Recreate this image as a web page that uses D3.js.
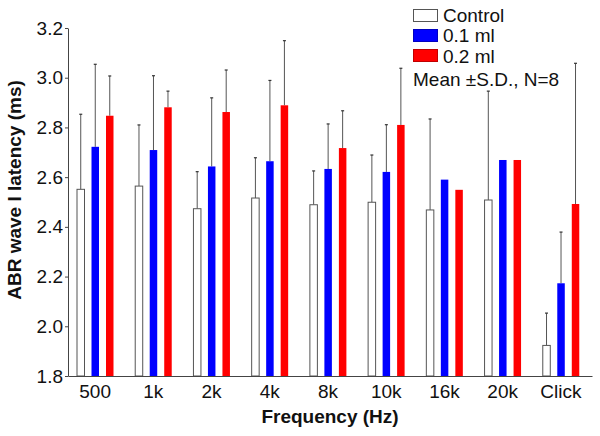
<!DOCTYPE html>
<html><head><meta charset="utf-8">
<script src="https://cdn.jsdelivr.net/npm/d3@7"></script>
<style>body{margin:0;background:#fff}svg{display:block}text{font-family:"Liberation Sans",Arial,sans-serif}</style>
</head><body><svg id="c" width="600" height="436"></svg>
<script>
const categories = ["500","1k","2k","4k","8k","10k","16k","20k","Click"];
const seriesNames = ["Control","0.1 ml","0.2 ml"];
const controlMean = [2.551,2.564,2.473,2.516,2.489,2.499,2.468,2.508,1.923];
const controlSD   = [0.302,0.246,0.149,0.162,0.136,0.190,0.366,0.438,0.130];
const low01Mean   = [2.722,2.709,2.643,2.664,2.633,2.621,2.590,2.669,2.173];
const low01SD     = [0.332,0.299,0.276,0.325,0.181,0.190,0,0,0.206];
const high02Mean  = [2.847,2.881,2.862,2.889,2.717,2.810,2.549,2.669,2.492];
const high02SD    = [0.160,0.065,0.169,0.260,0.150,0.228,0,0,0.566];
const yTicks = [1.8,2.0,2.2,2.4,2.6,2.8,3.0,3.2];
const colors = ["#ffffff","#0000ff","#ff0000"];
const strokes = ["#555555","#0000c0","#c00000"];

const means = [controlMean, low01Mean, high02Mean];
const sds = [controlSD, low01SD, high02SD];

const svg = d3.select("#c");
const mLeft = 68, mRight = 592, mTop = 28, mBottom = 376;
const x0 = d3.scaleBand().domain(categories).range([mLeft, mRight]).padding(0);
const x1 = d3.scaleBand().domain(seriesNames).range([9, 45.5]).paddingInner(0.483).paddingOuter(0);
const y = d3.scaleLinear().domain([1.8, 3.2]).range([mBottom, mTop]);
const FS = 19;

const data = [];
categories.forEach((c, i) => seriesNames.forEach((s, j) => data.push({c, s, j, m: means[j][i], sd: sds[j][i]})));

const g = svg.append("g");
// error bars
const eb = g.selectAll("g.eb").data(data.filter(d => d.sd > 0)).join("g");
eb.append("line")
  .attr("x1", d => x0(d.c) + x1(d.s) + x1.bandwidth()/2)
  .attr("x2", d => x0(d.c) + x1(d.s) + x1.bandwidth()/2)
  .attr("y1", d => y(d.m)).attr("y2", d => y(d.m + d.sd))
  .attr("stroke", "#555").attr("stroke-width", 1);
eb.append("line")
  .attr("x1", d => x0(d.c) + x1(d.s) + x1.bandwidth()/2 - 1.5)
  .attr("x2", d => x0(d.c) + x1(d.s) + x1.bandwidth()/2 + 1.5)
  .attr("y1", d => y(d.m + d.sd)).attr("y2", d => y(d.m + d.sd))
  .attr("stroke", "#333").attr("stroke-width", 1.2);
// bars
g.selectAll("rect.bar").data(data).join("rect")
  .attr("x", d => x0(d.c) + x1(d.s))
  .attr("y", d => y(d.m))
  .attr("width", x1.bandwidth())
  .attr("height", d => y(1.8) - y(d.m))
  .attr("fill", d => colors[d.j])
  .attr("stroke", d => d.j === 0 ? "#555" : "none")
  .attr("stroke-width", 1);

// y axis
const ya = svg.append("g").attr("transform", `translate(${mLeft},0)`)
  .call(d3.axisLeft(y).tickValues(yTicks).tickFormat(d3.format(".1f")).tickSize(3).tickSizeOuter(0));
ya.select(".domain").attr("stroke", "#444");
ya.selectAll(".tick line").attr("stroke", "#444");
ya.selectAll("text").attr("font-size", FS).attr("fill", "#111").attr("x", -5).attr("font-family", "Liberation Sans, Arial, sans-serif");
// x axis
const xa = svg.append("g").attr("transform", `translate(0,${mBottom})`)
  .call(d3.axisBottom(x0).tickSize(0).tickSizeOuter(0));
xa.select(".domain").attr("stroke", "#444");
xa.selectAll("text").attr("font-size", FS).attr("fill", "#111").attr("dy", 0).attr("y", 22)
  .attr("dx", -2).attr("font-family", "Liberation Sans, Arial, sans-serif");

// axis titles
svg.append("text").attr("x", 330).attr("y", 423).attr("text-anchor", "middle")
  .attr("font-size", FS).attr("font-weight", "bold").attr("fill", "#111").text("Frequency (Hz)");
svg.append("text").attr("transform", "translate(21,190) rotate(-90)").attr("text-anchor", "middle")
  .attr("font-size", FS).attr("font-weight", "bold").attr("fill", "#111").text("ABR wave I latency (ms)");

// legend
const lg = svg.append("g");
seriesNames.forEach((s, j) => {
  lg.append("rect").attr("x", 413.5).attr("y", 9.5 + j*20).attr("width", 24).attr("height", 12)
    .attr("fill", colors[j]).attr("stroke", strokes[j]).attr("stroke-width", 1);
  lg.append("text").attr("x", 443).attr("y", 21.5 + j*20.5).attr("font-size", FS).attr("fill", "#111").text(s);
});
lg.append("text").attr("x", 413).attr("y", 86).attr("font-size", FS).attr("fill", "#111").text("Mean \u00b1S.D., N=8");
</script></body></html>
